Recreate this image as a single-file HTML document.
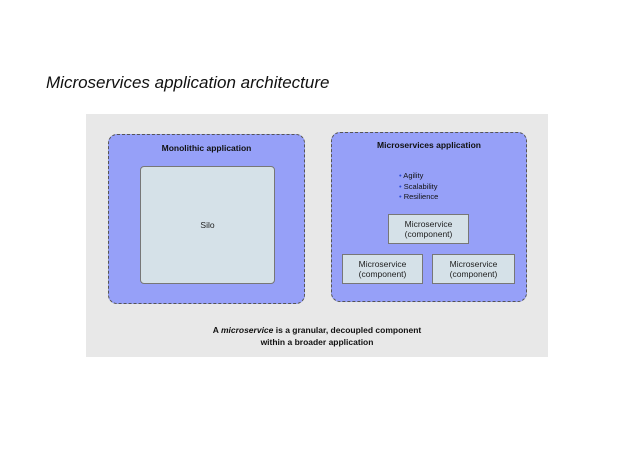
<!DOCTYPE html>
<html><head><style>
body{margin:0;width:638px;height:452px;background:#fff;position:relative;font-family:"Liberation Sans",sans-serif;overflow:hidden}
.a{position:absolute}
.t{position:absolute;left:46px;top:73px;font-size:17px;font-style:italic;color:#111}
.bg{left:86px;top:114px;width:462px;height:243px;background:#e8e8e8}
.dash{background:#96a0f8;border:1.5px dashed #555;border-radius:9px;box-sizing:border-box}
.box{background:#d5e1e8;border:1.5px solid #777;box-sizing:border-box;display:flex;align-items:center;justify-content:center;text-align:center;font-size:8.5px;line-height:10px;color:#222}
.h{font-size:8.5px;font-weight:bold;color:#111;text-align:center;width:100%}
</style></head><body>
<div class="t">Microservices application architecture</div>
<div class="a bg"></div>
<div class="a dash" style="left:108px;top:134px;width:197px;height:170px"></div>
<div class="a h" style="left:108px;top:143px;width:197px">Monolithic application</div>
<div class="a box" style="left:140px;top:166px;width:135px;height:118px;border-radius:4px">Silo</div>
<div class="a dash" style="left:331px;top:132px;width:196px;height:170px"></div>
<div class="a h" style="left:331px;top:140px;width:196px">Microservices application</div>
<div class="a" style="left:399px;top:171px;font-size:7.5px;line-height:10.5px;color:#111"><span style="color:#2b4bd8">•</span> Agility<br><span style="color:#2b4bd8">•</span> Scalability<br><span style="color:#2b4bd8">•</span> Resilience</div>
<div class="a box" style="left:388px;top:214px;width:81px;height:30px">Microservice<br>(component)</div>
<div class="a box" style="left:342px;top:254px;width:81px;height:30px">Microservice<br>(component)</div>
<div class="a box" style="left:432px;top:254px;width:83px;height:30px">Microservice<br>(component)</div>
<div class="a h" style="left:86px;top:325px;width:462px;line-height:11.5px">A <i>microservice</i> is a granular, decoupled component<br>within a broader application</div>
</body></html>
